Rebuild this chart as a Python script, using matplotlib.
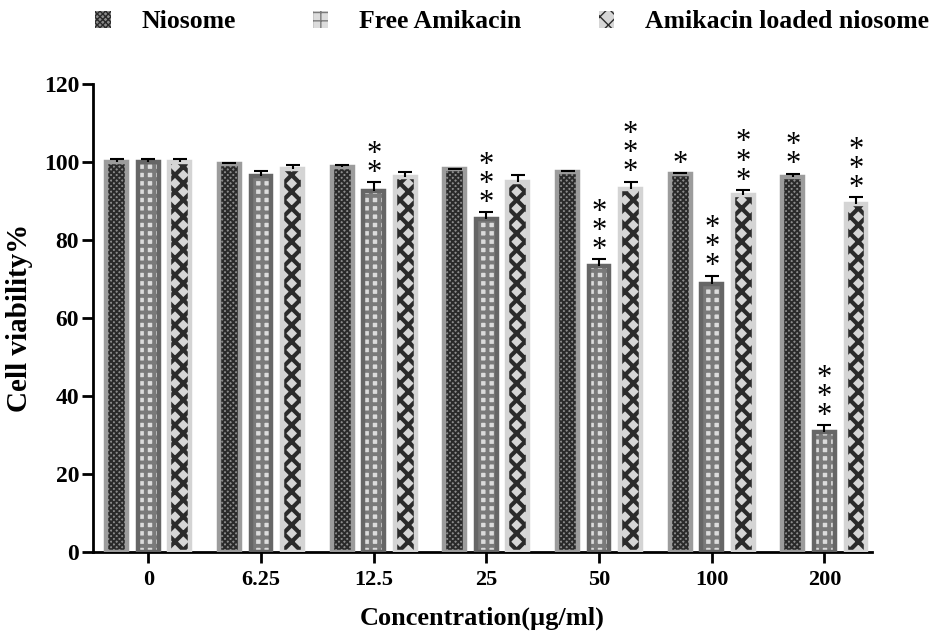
import numpy as np
import matplotlib
import matplotlib.pyplot as plt

concentrations = ["0", "6.25", "12.5", "25", "50", "100", "200"]
series_names = ["Niosome", "Free Amikacin", "Amikacin loaded niosome"]

niosome = [100.0, 99.5, 98.8, 98.1, 97.4, 96.9, 96.2]
niosome_err = [0.9, 0.3, 0.4, 0.2, 0.3, 0.2, 0.8]
free_amikacin = [100.0, 96.3, 92.6, 85.5, 73.3, 68.7, 30.9]
free_amikacin_err = [0.9, 1.3, 2.2, 1.6, 1.8, 2.2, 1.6]
loaded_niosome = [100.0, 98.1, 96.2, 95.0, 93.2, 91.5, 89.2]
loaded_niosome_err = [0.9, 1.1, 1.3, 1.6, 1.8, 1.3, 1.8]

niosome_stars = ["", "", "", "", "", "*", "**"]
free_amikacin_stars = ["", "", "**", "***", "***", "***", "***"]
loaded_niosome_stars = ["", "", "", "", "***", "***", "***"]

plt.rcParams["font.family"] = ["Liberation Serif", "DejaVu Serif"]
plt.rcParams["font.weight"] = "bold"

fig = plt.figure(figsize=(9.36, 6.34), dpi=100)
ax = fig.add_axes([0.0994, 0.129, 0.832, 0.7385])

x = np.arange(len(concentrations))
width = 0.155
offsets = [-0.28, 0.0, 0.28]

styles = [
    # face, hatch, hatch colour, frame colour, hatch width
    ("#8c8c8c", "xxxxxx", "#2a2a2a", "#9c9c9c", 1.4),
    ("#dcdcdc", "++", "#7a7a7a", "#666666", 2.8),
    ("#d6d6d6", "xx", "#2b2b2b", "#d4d4d4", 3.0),
]
values = [niosome, free_amikacin, loaded_niosome]
errors = [niosome_err, free_amikacin_err, loaded_niosome_err]
stars = [niosome_stars, free_amikacin_stars, loaded_niosome_stars]

handles = []
for i in range(3):
    face, hatch, hcol, frame, hw = styles[i]
    pos = x + offsets[i]
    with matplotlib.rc_context({"hatch.linewidth": hw}):
        ax.bar(pos, values[i], width, color=face, hatch=hatch, edgecolor=hcol,
               linewidth=0, zorder=2)
        h = plt.Rectangle((0, 0), 1, 1, facecolor=face, hatch=hatch, edgecolor=hcol,
                          linewidth=0)
    ax.bar(pos, values[i], width + 0.03, fill=False, edgecolor=frame,
           linewidth=3.2, zorder=3)
    eb = ax.errorbar(pos, values[i], yerr=[np.zeros(len(x)), errors[i]], fmt="none",
                     ecolor="black", elinewidth=1.5, capsize=5, capthick=1.5, zorder=4)
    eb[1][0].set_visible(False)
    for j in range(len(x)):
        if stars[i][j]:
            ax.annotate("\n".join(stars[i][j]), (pos[j], values[i][j] + errors[i][j]),
                        xytext=(0, -4), textcoords="offset points", ha="center",
                        va="bottom", fontsize=22, fontweight="normal",
                        linespacing=0.55, zorder=5)
    handles.append(h)

ax.set_ylim(0, 120)
ax.set_xlim(-0.49, 6.42)
ax.set_yticks(range(0, 121, 20))
ax.set_xticks(x)
ax.set_xticklabels(concentrations)
ax.spines["top"].set_visible(False)
ax.spines["right"].set_visible(False)
ax.spines["left"].set_linewidth(2)
ax.spines["bottom"].set_linewidth(2)
ax.tick_params(width=2, length=8)
ax.tick_params(axis="x", labelsize=16, pad=5)
ax.tick_params(axis="y", labelsize=17, pad=2)
for lab in ax.get_xticklabels() + ax.get_yticklabels():
    lab.set_fontweight("bold")

ax.set_ylabel("Cell viability%", fontsize=21, fontweight="bold", labelpad=8)
ax.set_xlabel("Concentration(\u00b5g/ml)", fontsize=19, fontweight="bold", labelpad=12)

fig.legend(handles, series_names, loc="upper center", ncol=3, frameon=False,
           bbox_to_anchor=(0.547, 1.02), handlelength=0.6, handleheight=0.6,
           handletextpad=1.2, columnspacing=3.0, prop={"weight": "bold", "size": 18.5})

fig.savefig("out.png", dpi=100)
